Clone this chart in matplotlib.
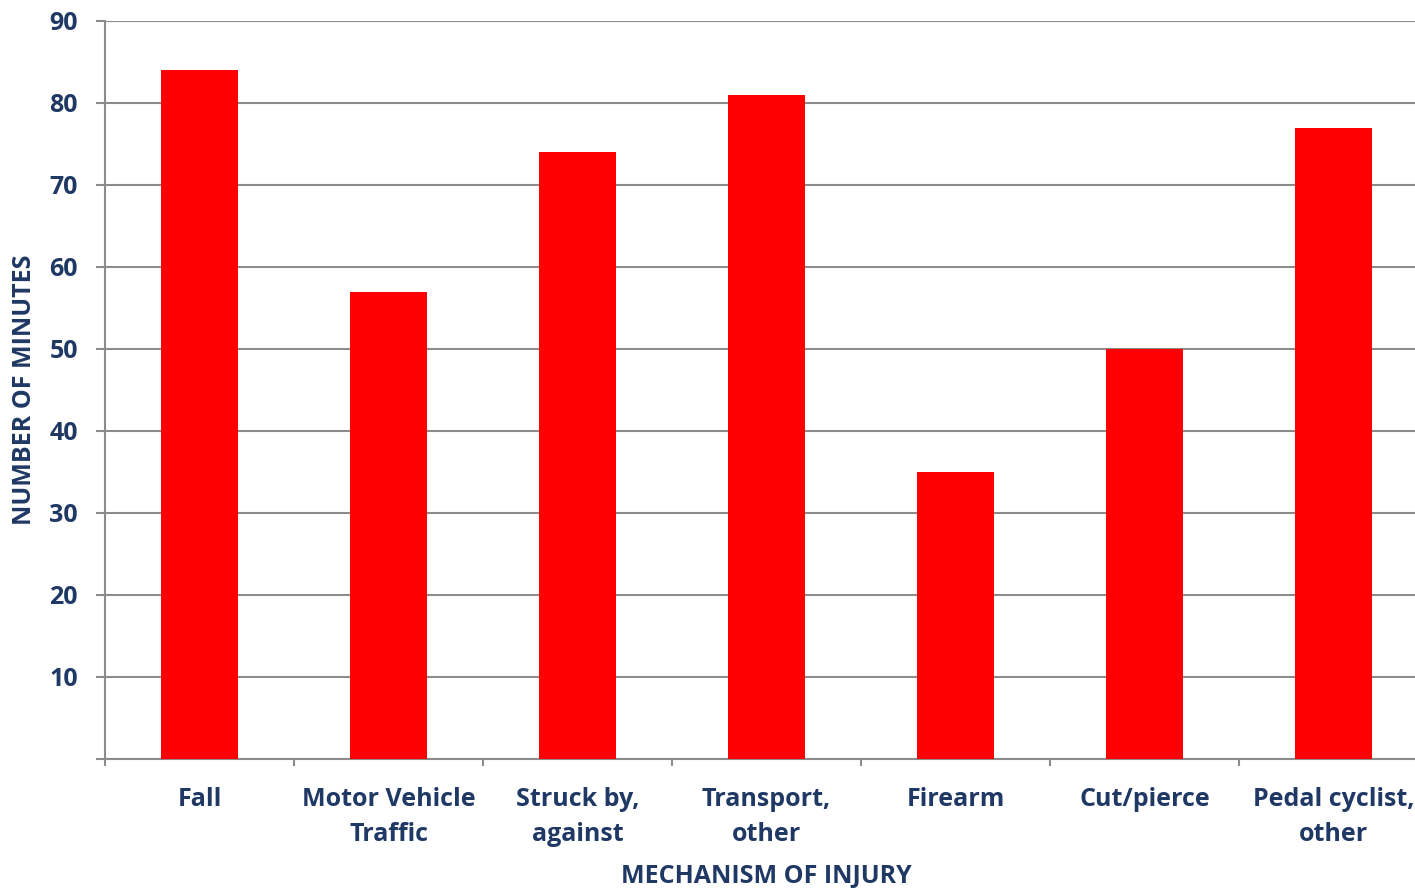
import numpy as np
import matplotlib.pyplot as plt

categories = ['Fall', 'Motor Vehicle\nTraffic', 'Struck by,\nagainst', 'Transport,\nother',
              'Firearm', 'Cut/pierce', 'Pedal cyclist,\nother']
minutes = [84, 57, 74, 81, 35, 50, 77]
yticks = [0, 10, 20, 30, 40, 50, 60, 70, 80, 90]

navy = '#1f3864'
grey = '#8c8c8c'

plt.rcParams['font.family'] = ['Open Sans', 'DejaVu Sans']
plt.rcParams['font.weight'] = 'bold'
plt.rcParams['axes.labelweight'] = 'bold'

fig = plt.figure(figsize=(14.15, 8.89), dpi=100)
ax = fig.add_axes([105 / 1415, 130 / 889, 1323 / 1415, 738 / 889])

x = np.arange(len(categories))
ax.bar(x, minutes, width=0.41, color='#ff0000', zorder=3)

ax.set_xlim(-0.5, len(categories) - 0.5)
ax.set_ylim(0, 90)
ax.set_yticks(yticks)
ax.set_yticklabels([''] + [str(t) for t in yticks[1:]])
ax.yaxis.grid(True, color=grey, linewidth=1.5, zorder=0)

ax.set_xticks(x)
ax.set_xticklabels(categories, linespacing=1.5)
ax.set_xticks(np.arange(len(categories) + 1) - 0.5, minor=True)
ax.tick_params(axis='x', which='major', length=0, pad=20.5, labelsize=18, labelcolor=navy)
ax.tick_params(axis='x', which='minor', length=5, width=1.5, color=grey)
ax.tick_params(axis='y', length=6.5, width=1.5, color=grey, pad=13, labelsize=18, labelcolor=navy)

for s in ['top', 'right']:
    ax.spines[s].set_visible(False)
for s in ['left', 'bottom']:
    ax.spines[s].set_color(grey)
    ax.spines[s].set_linewidth(1.5)

ax.set_ylabel('NUMBER OF MINUTES', fontsize=18, color=navy, labelpad=9)
ax.set_xlabel('MECHANISM OF INJURY', fontsize=18, color=navy, labelpad=12)

fig.savefig('out.png', dpi=100)
